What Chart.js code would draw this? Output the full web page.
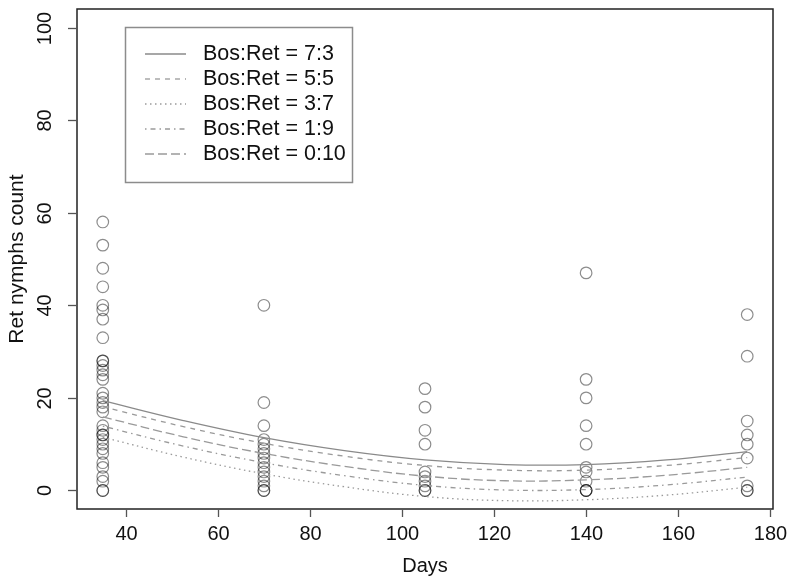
<!DOCTYPE html>
<html>
<head>
<meta charset="utf-8">
<script src="https://cdn.jsdelivr.net/npm/chart.js@4/dist/chart.umd.min.js"></script>
<style>
  html, body { margin: 0; padding: 0; background: #fff; }
  #wrap { width: 793px; height: 588px; }
</style>
</head>
<body>
<div id="wrap"><canvas id="chart" width="793" height="588"></canvas></div>
<script>
// observed counts per sampling day
const days = [35, 70, 105, 140, 175];
const countsDay35 = [58, 53, 48, 44, 40, 39, 37, 33, 28, 28, 27, 26, 25, 24, 21, 20, 19, 18, 17, 14, 13, 12, 12, 11, 10, 9, 8, 6, 5, 3, 2, 0, 0];
const countsDay70 = [40, 19, 14, 11, 10, 9, 8, 7, 6, 5, 4, 3, 2, 1, 0, 0];
const countsDay105 = [22, 18, 13, 10, 4, 3, 2, 1, 0, 0];
const countsDay140 = [47, 24, 20, 14, 10, 5, 4, 2, 0, 0, 0];
const countsDay175 = [38, 29, 15, 12, 10, 7, 1, 0, 0];

// fitted curves
const curveDays = [35, 52.5, 70, 87.5, 105, 122.5, 140, 157.5, 175];
const fit73 = [19.4, 15.1, 11.4, 8.6, 6.6, 5.6, 5.6, 6.6, 8.4];
const fit55 = [18.1, 13.8, 10.2, 7.4, 5.4, 4.4, 4.4, 5.4, 7.1];
const fit37 = [11.5, 7.2, 3.6, 0.8, -1.3, -2.2, -2.0, -1.0, 0.7];
const fit19 = [13.9, 9.6, 6.0, 3.2, 1.1, 0.1, 0.2, 1.2, 2.9];
const fit010 = [15.9, 11.6, 8.0, 5.2, 3.1, 2.1, 2.3, 3.3, 5.0];

const seriesLabels = ['Bos:Ret = 7:3', 'Bos:Ret = 5:5', 'Bos:Ret = 3:7', 'Bos:Ret = 1:9', 'Bos:Ret = 0:10'];
const seriesDash = [[], [5, 5], [1.5, 3.5], [1.5, 4, 5, 4], [9, 4]];

const xTicks = [40, 60, 80, 100, 120, 140, 160, 180];
const yTicks = [0, 20, 40, 60, 80, 100];

const FONT = '"Liberation Sans", Arial, Helvetica, sans-serif';

const allCounts = [countsDay35, countsDay70, countsDay105, countsDay140, countsDay175];
const points = [];
allCounts.forEach((list, i) => {
    list.forEach(v => points.push({ x: days[i], y: v }));
});

const fits = [fit73, fit55, fit37, fit19, fit010];
const lineSets = fits.map((vals, i) => ({
    label: seriesLabels[i],
    data: curveDays.map((d, j) => ({ x: d, y: vals[j] })),
    showLine: true,
    borderColor: i === 0 ? '#8a8a8a' : '#9a9a9a',
    borderWidth: 1.3,
    borderDash: seriesDash[i],
    pointRadius: 0,
    tension: 0.4,
    fill: false
}));

// axes, box and legend drawn by hand in the R style
const rStyle = {
    id: 'rStyle',
    afterDraw(chart) {
        const ctx = chart.ctx;
        const a = chart.chartArea;
        const xs = chart.scales.x, ys = chart.scales.y;
        ctx.save();

        // box
        ctx.strokeStyle = '#222';
        ctx.lineWidth = 1.5;
        ctx.strokeRect(a.left, a.top, a.right - a.left, a.bottom - a.top);

        ctx.fillStyle = '#111';
        ctx.font = '20px ' + FONT;

        // x axis
        ctx.strokeStyle = '#555';
        ctx.lineWidth = 1.3;
        ctx.textAlign = 'center';
        ctx.textBaseline = 'middle';
        xTicks.forEach(t => {
            const px = Math.round(xs.getPixelForValue(t)) + 0.5;
            ctx.beginPath();
            ctx.moveTo(px, a.bottom);
            ctx.lineTo(px, a.bottom + 8);
            ctx.stroke();
            ctx.fillText(String(t), px, a.bottom + 25);
        });
        ctx.fillText('Days', (a.left + a.right) / 2, 566);

        // y axis, labels turned like R does
        yTicks.forEach(t => {
            const py = Math.round(ys.getPixelForValue(t)) + 0.5;
            ctx.beginPath();
            ctx.moveTo(a.left, py);
            ctx.lineTo(a.left - 9, py);
            ctx.stroke();
            ctx.save();
            ctx.translate(45, py);
            ctx.rotate(-Math.PI / 2);
            ctx.fillText(String(t), 0, 0);
            ctx.restore();
        });
        ctx.save();
        ctx.translate(17, (a.top + a.bottom) / 2);
        ctx.rotate(-Math.PI / 2);
        ctx.font = '21px ' + FONT;
        ctx.fillText('Ret nymphs count', 0, 0);
        ctx.restore();

        // legend
        const lx = 125.5, ly = 27.5, lw = 227, lh = 155;
        ctx.strokeStyle = '#8c8c8c';
        ctx.lineWidth = 1.5;
        ctx.strokeRect(lx, ly, lw, lh);
        ctx.textAlign = 'left';
        ctx.font = '21.5px ' + FONT;
        lineSets.forEach((ds, i) => {
            const yy = 54 + i * 25;
            ctx.strokeStyle = ds.borderColor;
            ctx.lineWidth = ds.borderWidth;
            ctx.setLineDash(ds.borderDash);
            ctx.beginPath();
            ctx.moveTo(145, yy);
            ctx.lineTo(186, yy);
            ctx.stroke();
            ctx.setLineDash([]);
            ctx.fillStyle = '#111';
            ctx.fillText(ds.label, 203, yy);
        });
        ctx.restore();
    }
};

new Chart(document.getElementById('chart'), {
    type: 'scatter',
    data: {
        datasets: [
            ...lineSets,
            {
                label: 'counts',
                data: points,
                showLine: false,
                pointStyle: 'circle',
                pointRadius: 5.8,
                pointBorderWidth: 1.2,
                pointBorderColor: 'rgba(0,0,0,0.45)',
                pointBackgroundColor: 'rgba(0,0,0,0)'
            }
        ]
    },
    options: {
        responsive: false,
        animation: false,
        devicePixelRatio: 1,
        layout: { padding: { left: 77, right: 20, top: 9, bottom: 79 } },
        plugins: { legend: { display: false }, tooltip: { enabled: false } },
        scales: {
            x: { type: 'linear', min: 29.4, max: 180.6, display: false },
            y: { type: 'linear', min: -4, max: 104, display: false }
        }
    },
    plugins: [rStyle]
});
</script>
</body>
</html>
